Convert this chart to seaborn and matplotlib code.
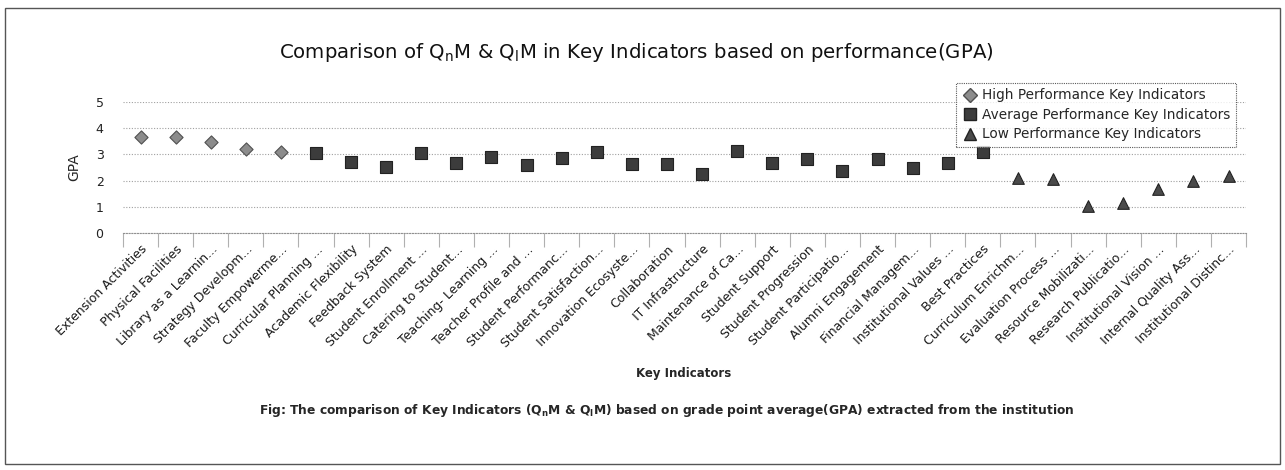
import pandas as pd
import matplotlib.pyplot as plt
import seaborn as sns
from matplotlib.lines import Line2D
from matplotlib.patches import Rectangle

# ------------------------------
# DATA
# ------------------------------
high_labels = ["Extension Activities", "Physical Facilities", "Library as a Learnin...",
               "Strategy Developm...", "Faculty Empowerme..."]
high_gpa = [3.66, 3.66, 3.47, 3.20, 3.08]

avg_labels = ["Curricular Planning ...", "Academic Flexibility", "Feedback System",
              "Student Enrollment ...", "Catering to Student...", "Teaching- Learning ...",
              "Teacher Profile and ...", "Student Performanc...", "Student Satisfaction...",
              "Innovation Ecosyste...", "Collaboration", "IT Infrastructure",
              "Maintenance of Ca...", "Student Support", "Student Progression",
              "Student Participatio...", "Alumni Engagement", "Financial Managem...",
              "Institutional Values ...", "Best Practices"]
avg_gpa = [3.06, 2.72, 2.53, 3.06, 2.68, 2.89, 2.60, 2.85, 3.10, 2.63,
           2.63, 2.24, 3.14, 2.68, 2.81, 2.37, 2.81, 2.49, 2.66, 3.10]

low_labels = ["Curriculum Enrichm...", "Evaluation Process ...", "Resource Mobilizati...",
              "Research Publicatio...", "Institutional Vision ...", "Internal Quality Ass...",
              "Institutional Distinc..."]
low_gpa = [2.11, 2.06, 1.03, 1.16, 1.67, 1.98, 2.19]

groups = ["High Performance Key Indicators", "Average Performance Key Indicators",
          "Low Performance Key Indicators"]

TITLE = r"Comparison of Q$_\mathrm{n}$M & Q$_\mathrm{l}$M in Key Indicators based on performance(GPA)"
CAPTION = (r"Fig: The comparison of Key Indicators (Q$_\mathbf{n}$M & Q$_\mathbf{l}$M) "
           r"based on grade point average(GPA) extracted from the institution")

# ------------------------------
# STYLE
# ------------------------------
sns.set_style("white")
plt.rcParams['font.family'] = ['DejaVu Sans']

df = pd.DataFrame({
    "indicator": high_labels + avg_labels + low_labels,
    "gpa": high_gpa + avg_gpa + low_gpa,
    "performance": [groups[0]] * len(high_labels) + [groups[1]] * len(avg_labels)
                   + [groups[2]] * len(low_labels),
})
order = list(df["indicator"])
df["pos"] = range(len(df))

marker_style = {
    groups[0]: dict(marker="D", s=45, color="#8c8c8c", edgecolor="#505050"),
    groups[1]: dict(marker="s", s=75, color="#3c3c3c", edgecolor="#222222"),
    groups[2]: dict(marker="^", s=70, color="#4a4a4a", edgecolor="#222222"),
}

fig = plt.figure(figsize=(12.85, 4.70), dpi=100)
ax = fig.add_axes([0.0957, 0.504, 0.874, 0.279])

for g in groups:
    sub = df[df["performance"] == g]
    st = marker_style[g]
    sns.scatterplot(data=sub, x="pos", y="gpa", marker=st["marker"], s=st["s"],
                    color=st["color"], edgecolor=st["edgecolor"], linewidth=0.8,
                    ax=ax, legend=False, zorder=3)

ax.set_xlim(-0.5, len(order) - 0.5)
ax.set_ylim(0, 5)
ax.set_yticks(range(6))
ax.tick_params(axis="y", length=0, pad=14, labelsize=9, colors="#222222")
ax.yaxis.grid(True, linestyle=(0, (1, 1.5)), color="#a0a0a0", linewidth=0.8)
ax.xaxis.grid(False)

ax.set_xticks(range(len(order)))
ax.set_xticklabels(order, rotation=45, ha="right", rotation_mode="anchor", fontsize=9,
                   color="#1a1a1a")
ax.set_xticks([i - 0.5 for i in range(len(order) + 1)], minor=True)
ax.tick_params(axis="x", which="major", length=0, pad=7)
ax.tick_params(axis="x", which="minor", bottom=True, length=10, width=0.8,
               color="#b0b0b0", direction="out")

for side in ["top", "right", "left"]:
    ax.spines[side].set_visible(False)
ax.spines["bottom"].set_linestyle((0, (1, 1.5)))
ax.spines["bottom"].set_color("#909090")

ax.set_xlabel("")
ax.set_ylabel("GPA", fontsize=10, labelpad=10)

# Legend
handles = [Line2D([], [], linestyle="none", marker=marker_style[g]["marker"],
                  markersize=7 if g == groups[0] else 8,
                  markerfacecolor=marker_style[g]["color"],
                  markeredgecolor=marker_style[g]["edgecolor"]) for g in groups]
leg = fig.legend(handles, groups, loc="upper right", bbox_to_anchor=(0.967, 0.838),
                 fontsize=9.8, frameon=True, fancybox=False, labelspacing=0.4,
                 handletextpad=0.3, handlelength=1.2, borderpad=0.4)
leg.get_frame().set_edgecolor("#333333")
leg.get_frame().set_linestyle((0, (1, 1)))
leg.get_frame().set_linewidth(0.8)

fig.text(0.495, 0.888, TITLE, ha="center", va="center", fontsize=14.2, color="#111111")
fig.text(0.532, 0.206, "Key Indicators", ha="center", va="center", fontsize=8.5,
         fontweight="bold")
fig.text(0.519, 0.127, CAPTION, ha="center", va="center", fontsize=8.8, fontweight="bold")

fig.patches.append(Rectangle((0.004, 0.012), 0.992, 0.972, transform=fig.transFigure,
                             fill=False, edgecolor="#555555", linewidth=1.0))

plt.savefig("out.png", dpi=100)
plt.close()
